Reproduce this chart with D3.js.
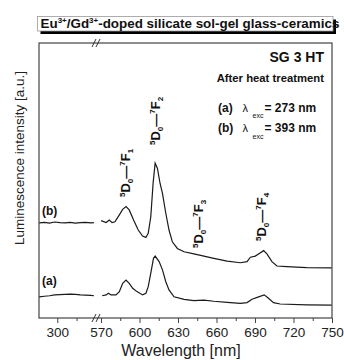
<!DOCTYPE html>
<html>
<head>
<meta charset="utf-8">
<script src="https://cdn.jsdelivr.net/npm/d3@7"></script>
<style>
  body { margin: 0; background: #fff; }
  text { font-family: 'Liberation Sans', Arial, sans-serif; fill: #111; }
</style>
</head>
<body>
<svg id="chart" width="344" height="360"></svg>
<script>
// left piece of the broken axis (short flat stretch)
var wlLeft = [286, 290, 294, 298, 302, 306, 310, 314, 318, 322, 326, 328.5]
var leftA = [7.7, 7.9, 8.1, 8.4, 8.5, 8.6, 8.7, 8.6, 8.4, 8.3, 8.2, 8.1]
var leftB = [34.6, 34.8, 34.5, 34.9, 34.7, 34.6, 34.8, 34.5, 34.7, 34.8, 34.6, 34.7]

// right piece, spectrum (a) exc 273 nm
var wlA = [570.9, 574, 575.8, 577.8, 581.7, 584.3, 586.9, 589.5, 592, 594.7, 598, 602.4, 605, 606.8,
  608.8, 610.9, 612.2, 615.3, 617.9, 620.5, 623, 626.9, 634.7, 642.4, 650.2, 657.9, 668.3, 678.6,
  683.8, 687.7, 692.8, 697.2, 700.5, 704.4, 709.6, 730.3, 749.7]
var intA = [8.1, 8.4, 9.0, 8.4, 8.4, 9.6, 12.6, 13.8, 12.6, 10.8, 9.6, 8.4, 9.0, 11.4,
  16.3, 21.7, 22.5, 20.5, 17.5, 13.2, 10.2, 7.7, 6.8, 6.3, 6.5, 6.1, 5.7, 5.3,
  5.6, 6.8, 7.7, 8.4, 7.2, 5.6, 5.1, 4.8, 4.7]

// right piece, spectrum (b) exc 393 nm
var wlB = [570.1, 574, 576.5, 578.6, 580.9, 584.3, 586.9, 589.5, 592, 595.4, 599, 602.4, 605, 606.8,
  608.8, 610.6, 612.2, 614, 616, 617.9, 620.5, 623, 625.6, 629.5, 634.7, 642.4, 650.2, 657.9,
  668.3, 678.6, 683.8, 686.4, 690.2, 692.8, 696.7, 699.3, 703.2, 707.1, 714.8, 730.3, 749.7]
var intB = [35.4, 34.7, 35.6, 34.7, 35.0, 37.5, 39.5, 40.5, 39.3, 35.6, 32.0, 29.8, 29.3, 30.8,
  36.8, 49.0, 56.3, 54.4, 49.0, 45.3, 38.1, 32.0, 27.7, 25.3, 24.1, 23.3, 22.5, 21.7,
  20.7, 20.1, 20.5, 22.1, 22.5, 23.3, 24.5, 23.3, 20.5, 18.9, 18.7, 18.3, 18.2]

var leftTicks = [300]
var leftMinor = [315]
var rightTicks = [570, 600, 630, 660, 690, 720, 750]
var rightMinor = [585, 615, 645, 675, 705, 735]

var peakLabels = [
  { lower: "1", x: 130, y: 197 },
  { lower: "2", x: 160, y: 145 },
  { lower: "3", x: 203, y: 248 },
  { lower: "4", x: 266, y: 241 }
]

var svg = d3.select("#chart")
var pLeft = 39, pRight = 332, pTop = 43, pBottom = 318, brk = 96.5

var xLeft = d3.scaleLinear().domain([285.8, 330.5]).range([pLeft, brk])
var xRight = d3.scaleLinear().domain([566.5, 750]).range([brk, pRight])
var y = d3.scaleLinear().domain([0, 100]).range([pBottom, pTop])

// title box with drop shadow
svg.append("rect").attr("x", 40.5).attr("y", 19.5).attr("width", 295.5).attr("height", 14.5).style("fill", "#000")
svg.append("rect").attr("x", 37.5).attr("y", 16.5).attr("width", 295.5).attr("height", 14.5)
  .style("fill", "#fff").style("stroke", "#999").style("stroke-width", 0.8)
var title = svg.append("text").attr("x", 40.5).attr("y", 28.3)
  .style("font-size", "13.4px").style("font-weight", "bold")
title.append("tspan").text("Eu")
title.append("tspan").text("3+").style("font-size", "8px").attr("dy", -5)
title.append("tspan").text("/Gd").attr("dy", 5)
title.append("tspan").text("3+").style("font-size", "8px").attr("dy", -5)
title.append("tspan").text("-doped silicate sol-gel glass-ceramics").attr("dy", 5)

// frame
svg.append("rect").attr("x", pLeft).attr("y", pTop).attr("width", pRight - pLeft).attr("height", pBottom - pTop)
  .style("fill", "none").style("stroke", "#444").style("stroke-width", 1.2)

// ticks below the axis
var gx = svg.append("g").attr("transform", `translate(0, ${pBottom})`)
gx.call(d3.axisBottom(xLeft).tickValues(leftTicks).tickSize(5).tickFormat(d3.format("d")))
gx.append("g").call(d3.axisBottom(xLeft).tickValues(leftMinor).tickSize(3).tickFormat(""))
gx.append("g").call(d3.axisBottom(xRight).tickValues(rightTicks).tickSize(5).tickFormat(d3.format("d")))
gx.append("g").call(d3.axisBottom(xRight).tickValues(rightMinor).tickSize(3).tickFormat(""))
gx.selectAll(".domain").remove()
gx.selectAll("line").style("stroke", "#444")
gx.selectAll("text").style("font-size", "13.5px").style("font-family", "'Liberation Sans', Arial, sans-serif")
  .style("fill", "#222").attr("y", 9)

// axis break marks
;[pTop, pBottom].forEach(function (yy) {
  ;[brk - 2.5, brk + 1.5].forEach(function (xx) {
    svg.append("line").attr("x1", xx - 2).attr("y1", yy + 4).attr("x2", xx + 2).attr("y2", yy - 4)
      .style("stroke", "#333").style("stroke-width", 1)
  })
})

// spectra
var lineLeft = d3.line().x(function (d) { return xLeft(d[0]) }).y(function (d) { return y(d[1]) })
var lineRight = d3.line().x(function (d) { return xRight(d[0]) }).y(function (d) { return y(d[1]) })
var series = [
  lineLeft(d3.zip(wlLeft, leftA)), lineLeft(d3.zip(wlLeft, leftB)),
  lineRight(d3.zip(wlA, intA)), lineRight(d3.zip(wlB, intB))
]
svg.selectAll("path.spec").data(series).join("path").attr("class", "spec")
  .attr("d", function (d) { return d })
  .style("fill", "none").style("stroke", "#1a1a1a").style("stroke-width", 1.2)

// curve tags
svg.append("text").attr("x", 42).attr("y", 215).text("(b)").style("font-size", "12px").style("font-weight", "bold")
svg.append("text").attr("x", 42).attr("y", 285).text("(a)").style("font-size", "12px").style("font-weight", "bold")

// transition labels, rotated
peakLabels.forEach(function (p) {
  var t = svg.append("text").attr("transform", `translate(${p.x},${p.y}) rotate(-90)`)
    .style("font-size", "13px").style("font-weight", "bold")
  t.append("tspan").text("5").style("font-size", "8px").attr("dy", -5)
  t.append("tspan").text("D").attr("dy", 5)
  t.append("tspan").text("0").style("font-size", "8px").attr("dy", 3)
  t.append("tspan").text("—").attr("dy", -3)
  t.append("tspan").text("7").style("font-size", "8px").attr("dy", -5)
  t.append("tspan").text("F").attr("dy", 5)
  t.append("tspan").text(p.lower).style("font-size", "8px").attr("dy", 3)
})

// info block, top right
svg.append("text").attr("x", 324).attr("y", 62.3).attr("text-anchor", "end").text("SG 3 HT")
  .style("font-size", "14px").style("font-weight", "bold")
svg.append("text").attr("x", 324).attr("y", 82.3).attr("text-anchor", "end").text("After heat treatment")
  .style("font-size", "11.3px").style("font-weight", "bold")
var exc = [["(a)", "= 273 nm", 111.7], ["(b)", "= 393 nm", 132.3]]
exc.forEach(function (e) {
  var t = svg.append("text").attr("y", e[2]).style("font-size", "12px").style("font-weight", "bold")
  t.append("tspan").attr("x", 218).text(e[0])
  t.append("tspan").attr("x", 242.5).text("λ").style("font-weight", "normal").style("font-size", "11px")
  t.append("tspan").attr("x", 252.5).attr("dy", 6.5).text("exc").style("font-size", "7px").style("font-weight", "normal")
  t.append("tspan").attr("x", 264.5).attr("dy", -6.5).text(e[1])
})

// axis titles
svg.append("text").attr("x", 181).attr("y", 356).attr("text-anchor", "middle").text("Wavelength [nm]")
  .style("font-size", "16px").style("fill", "#222")
svg.append("text").attr("transform", "translate(24,158) rotate(-90)").attr("text-anchor", "middle")
  .text("Luminescence intensity [a.u.]").style("font-size", "13.5px").style("fill", "#222")
</script>
</body>
</html>
